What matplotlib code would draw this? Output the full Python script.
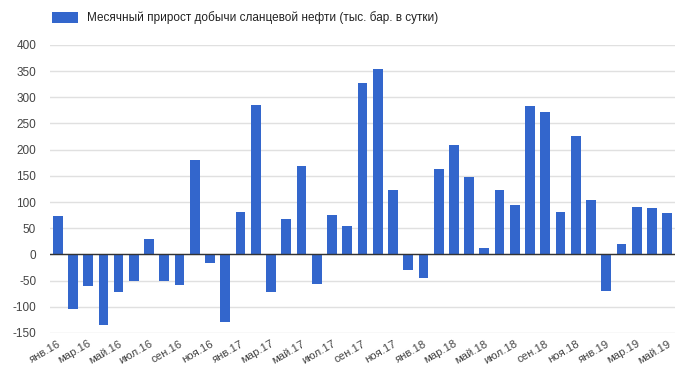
import matplotlib.pyplot as plt
import numpy as np

plt.rcParams['font.family'] = ['Liberation Sans', 'DejaVu Sans']
plt.rcParams['axes.unicode_minus'] = False

months = ['янв', 'фев', 'мар', 'апр', 'май', 'июн', 'июл', 'авг', 'сен', 'окт', 'ноя', 'дек']
years = ['16', '17', '18', '19']
labels = [f'{m}.{y}' for y in years for m in months][:41]

values = [74, -104, -60, -135, -71, -50, 29, -51, -59, 181, -16, -130,
          81, 285, -71, 68, 169, -56, 76, 54, 328, 354, 123, -30,
          -45, 164, 208, 147, 13, 122, 94, 283, 272, 81, 226, 103,
          -70, 20, 90, 88, 79]

series_name = 'Месячный прирост добычи сланцевой нефти (тыс. бар. в сутки)'
yticks = [-150, -100, -50, 0, 50, 100, 150, 200, 250, 300, 350, 400]

fig = plt.figure(figsize=(6.95, 3.84), dpi=100)
ax = fig.add_axes([0.072, 0.133, 0.899, 0.750])

x = np.arange(len(values))
ax.bar(x, values, width=0.64, color='#3366cc', zorder=3, label=series_name)

ax.set_xlim(-0.5, len(values) - 0.5)
ax.set_ylim(-150, 400)
ax.set_yticks(yticks)
ax.grid(axis='y', color='#e0e0e0', linewidth=1, zorder=0)
ax.axhline(0, color='#333333', linewidth=1, zorder=4)

for s in ax.spines.values():
    s.set_visible(False)

ax.tick_params(axis='y', length=0, labelsize=8.5, labelcolor='#444444', pad=10)
ax.set_xticks(x[::2])
ax.set_xticklabels(labels[::2], rotation=30, ha='right', rotation_mode='anchor',
                   fontsize=8.2, color='#444444')
ax.tick_params(axis='x', length=0, pad=4)

ax.legend(loc='lower left', bbox_to_anchor=(-0.005, 1.055), frameon=False,
          fontsize=8.5, handlelength=2.2, handleheight=1.0, borderaxespad=0,
          labelcolor='#222222')

fig.savefig('out.png', dpi=100)
